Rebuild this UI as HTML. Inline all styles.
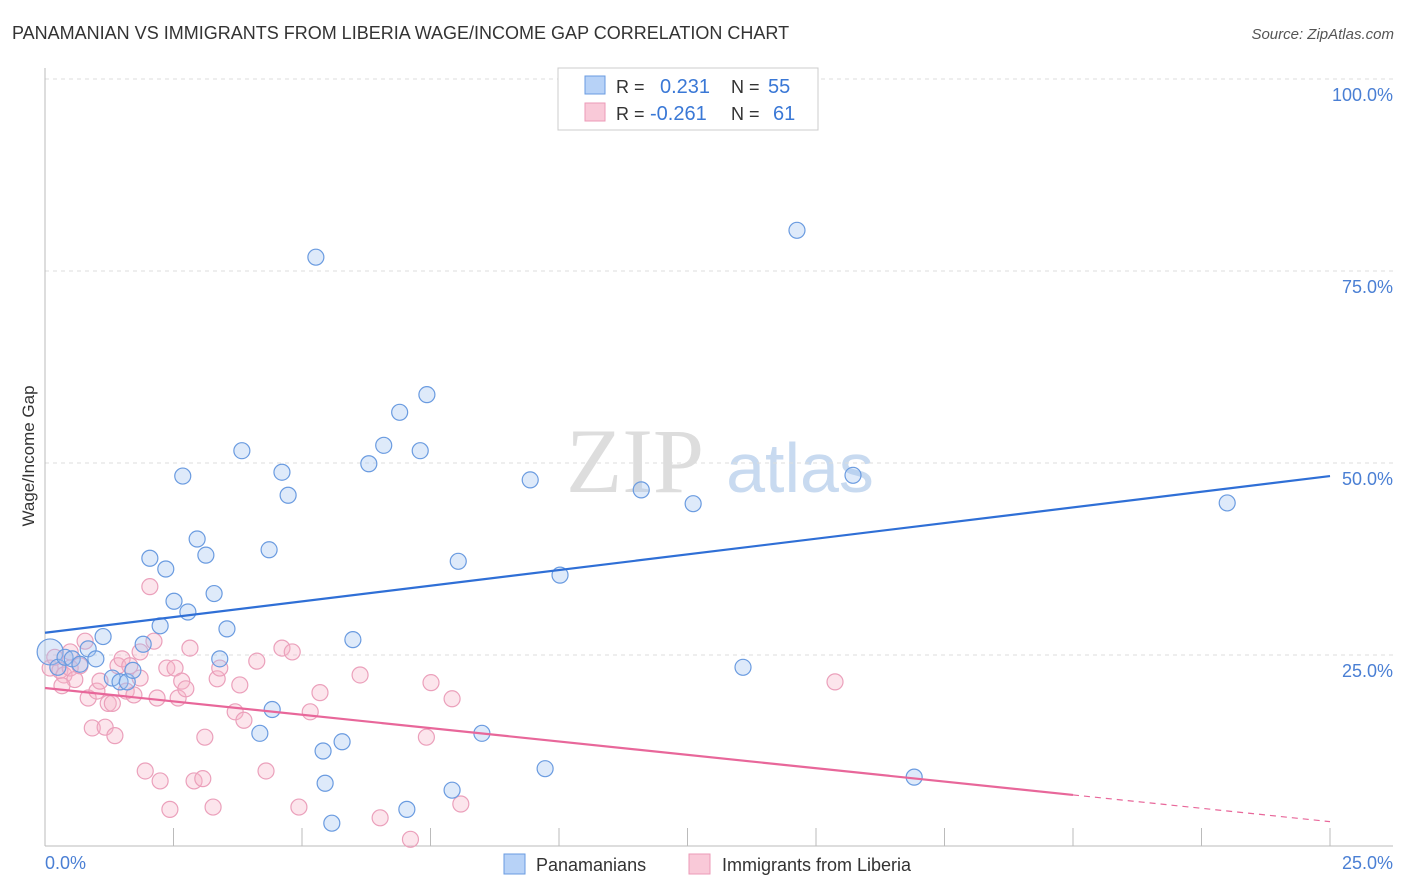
<!DOCTYPE html>
<html><head><meta charset="utf-8"><style>
body{margin:0;background:#fff;font-family:"Liberation Sans",sans-serif}
svg{display:block}
</style></head><body>
<svg id="c" width="1406" height="892" xmlns="http://www.w3.org/2000/svg">
<text x="12" y="39" font-size="18" fill="#333">PANAMANIAN VS IMMIGRANTS FROM LIBERIA WAGE/INCOME GAP CORRELATION CHART</text>
<text x="1394" y="39" font-size="15" fill="#555" font-style="italic" text-anchor="end">Source: ZipAtlas.com</text>
<text x="635" y="492" font-size="92" fill="#ddd" font-family="Liberation Serif" text-anchor="middle">ZIP</text>
<text x="800" y="492" font-size="70" fill="#c8daf0" text-anchor="middle">atlas</text>
<text transform="translate(34,456) rotate(-90)" font-size="17" fill="#333" text-anchor="middle">Wage/Income Gap</text>
<g id="grid"></g><g id="ticks"></g>
<line x1="45" y1="68" x2="45" y2="846" stroke="#bbb"/>
<line x1="45" y1="846" x2="1393" y2="846" stroke="#bbb"/>
<text x="45" y="869" font-size="18" fill="#4a7fd4">0.0%</text>
<text x="1393" y="869" font-size="18" fill="#4a7fd4" text-anchor="end">25.0%</text>
<g id="pts"></g><g id="lines"></g>
<g>
<rect x="558" y="68" width="260" height="62" fill="#fff" stroke="#ccc"/>
<rect x="585" y="76" width="20" height="18" fill="#b7d2f7" stroke="#6a9be0"/>
<rect x="585" y="103" width="20" height="18" fill="#f9c9d8" stroke="#ec9ab7"/>
<text x="616" y="93" font-size="18" fill="#333">R =</text><text x="660" y="93" font-size="20" fill="#3a78d6">0.231</text>
<text x="731" y="93" font-size="18" fill="#333">N =</text><text x="768" y="93" font-size="20" fill="#3a78d6">55</text>
<text x="616" y="120" font-size="18" fill="#333">R =</text><text x="650" y="120" font-size="20" fill="#3a78d6">-0.261</text>
<text x="731" y="120" font-size="18" fill="#333">N =</text><text x="773" y="120" font-size="20" fill="#3a78d6">61</text>
</g>
<g>
<rect x="504" y="854" width="21" height="20" fill="#b7d2f7" stroke="#6a9be0"/>
<text x="536" y="871" font-size="18" fill="#333">Panamanians</text>
<rect x="689" y="854" width="21" height="20" fill="#f9c9d8" stroke="#ec9ab7"/>
<text x="722" y="871" font-size="18" fill="#333">Immigrants from Liberia</text>
</g>
</svg>
<script>
const yTicks=[25,50,75,100];
const xTicks=[2.5,5,7.5,10,12.5,15,17.5,20,22.5,25];
const blueX=[0.1,0.25,0.39,0.53,0.68,0.84,0.99,1.13,1.31,1.46,1.6,1.71,1.91,2.04,2.24,2.35,2.51,2.68,2.78,2.96,3.13,3.29,3.4,3.54,3.83,4.36,4.42,4.18,4.61,4.73,5.27,5.41,5.45,5.58,5.78,5.99,6.3,6.59,6.9,7.04,7.3,7.43,7.92,8.04,8.5,9.44,9.73,10.02,11.6,12.61,13.58,14.63,15.72,16.91,23.0];
const blueY=[25.4,23.4,24.7,24.5,23.8,25.8,24.5,27.4,22.0,21.5,21.5,23.0,26.4,37.6,28.8,36.2,32.0,48.3,30.6,40.1,38.0,33.0,24.5,28.4,51.6,38.7,17.9,14.8,48.8,45.8,76.8,12.5,8.3,3.1,13.7,27.0,49.9,52.3,56.6,4.9,51.6,58.9,7.4,37.2,14.8,47.8,10.2,35.4,46.5,44.7,23.4,80.3,48.4,9.1,44.8];
const pinkX=[0.1,0.19,0.29,0.37,0.49,0.58,0.68,0.78,0.84,0.92,1.01,1.07,1.17,1.23,1.31,1.36,1.42,1.5,1.58,1.65,1.73,1.85,1.95,2.04,2.12,2.18,2.24,2.37,2.43,2.53,2.59,2.66,2.74,2.82,2.9,3.07,3.11,3.27,3.35,3.4,3.79,3.7,3.87,4.12,4.3,4.61,4.81,4.94,5.16,5.35,6.13,6.52,7.11,7.42,7.51,7.92,8.09,15.37,0.49,0.33,1.85];
const pinkY=[23.3,24.7,23.0,22.4,23.3,21.8,23.6,26.8,19.4,15.5,20.3,21.6,15.6,18.7,18.7,14.5,23.6,24.5,20.3,23.6,19.8,22.0,9.9,33.9,26.8,19.4,8.6,23.3,4.9,23.3,19.4,21.6,20.6,25.9,8.6,8.9,14.3,5.2,21.9,23.3,21.1,17.6,16.5,24.2,9.9,25.9,25.4,5.2,17.6,20.1,22.4,3.8,1.0,14.3,21.4,19.3,5.6,21.5,25.4,21.0,25.4];
const blueTrend=[27.9,48.3], pinkTrend=[20.7,3.3], pinkSolidEnd=20;
const NS='http://www.w3.org/2000/svg';
const X=v=>45+v/25*1285, Y=v=>847-v*7.68;
function mk(p,t,a){const e=document.createElementNS(NS,t);for(const k in a)e.setAttribute(k,a[k]);document.getElementById(p).appendChild(e);return e;}
yTicks.forEach(t=>{
 const l=mk('grid','line',{x1:45,x2:1393,y1:Y(t),y2:Y(t),stroke:'#ddd','stroke-dasharray':'4,4'});
 
 
 const tx=mk('grid','text',{x:1393,y:Y(t)+22,'font-size':18,fill:'#4a7fd4','text-anchor':'end'});
 tx.textContent=t.toFixed(1)+'%';
 
 
});
xTicks.forEach(t=>{
 const l=mk('ticks','line',{x1:X(t),x2:X(t),y1:828,y2:846,stroke:'#bbb'});
 
 
});
pinkX.forEach((x,i)=>{
 const c=mk('pts','circle',{cx:X(x),cy:Y(pinkY[i]),r:8,fill:'rgba(246,180,200,0.35)',stroke:'#eba0bb','stroke-width':1.2});
 
 
});
blueX.forEach((x,i)=>{
 const c=mk('pts','circle',{cx:X(x),cy:Y(blueY[i]),r:i==0?13:8,fill:'rgba(160,196,240,0.35)',stroke:'#6a9be0','stroke-width':1.2});
 
 
});
const bl=mk('lines','line',{x1:X(0),y1:Y(blueTrend[0]),x2:X(25),y2:Y(blueTrend[1]),stroke:'#2f6fd6','stroke-width':2.2});


const pm=v=>pinkTrend[0]+(pinkTrend[1]-pinkTrend[0])*v/25;
const pl=mk('lines','line',{x1:X(0),y1:Y(pinkTrend[0]),x2:X(pinkSolidEnd),y2:Y(pm(pinkSolidEnd)),stroke:'#e8679a','stroke-width':2.2});


const pd=mk('lines','line',{x1:X(pinkSolidEnd),y1:Y(pm(pinkSolidEnd)),x2:X(25),y2:Y(pinkTrend[1]),stroke:'#e8679a','stroke-width':1.2,'stroke-dasharray':'6,5'});


</script>
</body></html>
